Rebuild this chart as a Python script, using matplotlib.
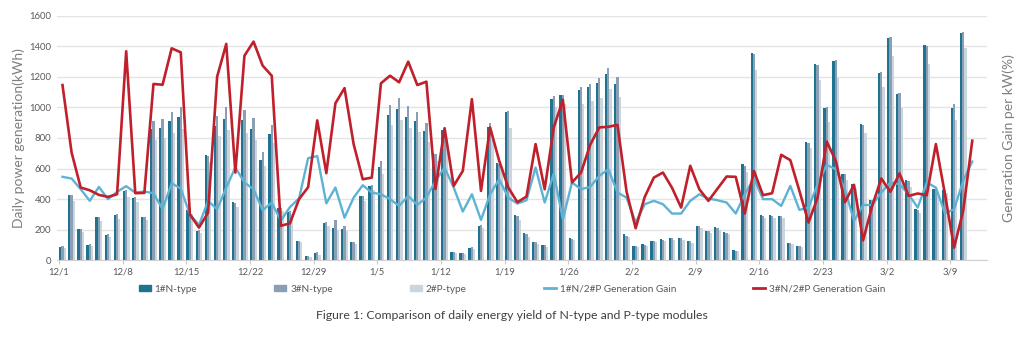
import numpy as np
import pandas as pd
import matplotlib
matplotlib.use('Agg')
import matplotlib.pyplot as plt
from matplotlib.patches import Patch
from matplotlib.lines import Line2D

plt.rcParams['font.family'] = ['Lato', 'DejaVu Sans']

days = pd.date_range('2022-12-01', periods=101)

# daily yield, kWh (last day has no bars)
n1_type = [90, 425, 203, 103, 282, 168, 298, 455, 410, 284,
           857, 862, 908, 936, 330, 195, 688, 876, 927, 383,
           918, 859, 656, 824, 340, 315, 128, 30, 45, 242,
           212, 207, 120, 420, 488, 610, 950, 990, 940, 912,
           846, 705, 850, 55, 45, 83, 227, 870, 634, 972,
           296, 177, 122, 100, 1052, 1078, 144, 1112, 1135, 1160,
           1220, 1155, 170, 94, 104, 126, 137, 144, 144, 126,
           225, 194, 216, 183, 66, 628, 1358, 298, 298, 293,
           116, 94, 774, 1282, 995, 1304, 564, 500, 893, 394,
           1226, 1456, 1090, 522, 335, 1406, 465, 462, 994, 1484, np.nan]
n3_type = [92, 430, 205, 105, 285, 170, 300, 460, 412, 286,
           909, 922, 972, 1005, 340, 197, 684, 942, 1000, 378,
           981, 929, 711, 885, 345, 320, 127, 30, 52, 250,
           266, 222, 118, 422, 492, 650, 1015, 1060, 1010, 972,
           896, 695, 842, 56, 48, 85, 231, 900, 628, 976,
           292, 172, 118, 98, 1075, 1082, 140, 1135, 1155, 1195,
           1255, 1200, 162, 92, 102, 124, 135, 143, 144, 124,
           222, 192, 212, 180, 64, 620, 1352, 292, 292, 288,
           112, 92, 770, 1277, 1005, 1310, 562, 495, 885, 395,
           1234, 1460, 1092, 518, 332, 1402, 470, 462, 1020, 1490, np.nan]
p2_type = [78, 390, 185, 95, 258, 155, 272, 415, 380, 262,
           787, 800, 830, 858, 305, 180, 645, 814, 855, 350,
           835, 790, 620, 765, 320, 300, 118, 24, 38, 225,
           200, 190, 110, 388, 460, 565, 885, 918, 865, 840,
           776, 650, 775, 50, 40, 75, 210, 800, 600, 865,
           265, 155, 110, 90, 1005, 1025, 130, 1020, 1040, 1060,
           1120, 1070, 150, 88, 96, 118, 128, 135, 135, 116,
           210, 180, 200, 170, 60, 580, 1242, 280, 280, 275,
           105, 85, 732, 1177, 902, 1190, 525, 470, 830, 383,
           1130, 1336, 994, 482, 307, 1282, 440, 442, 918, 1386, np.nan]

# generation gain per kW, %
gain_n1 = [5.46, 5.35, 4.65, 3.89, 4.80, 4.00, 4.48, 4.85, 4.43, 4.50,
           4.39, 3.34, 5.04, 4.69, 3.01, 2.31, 3.89, 3.34, 4.76, 6.07,
           5.09, 4.65, 3.27, 3.78, 2.60, 3.48, 4.05, 6.68, 6.82, 3.73,
           4.76, 2.79, 4.10, 4.91, 4.43, 4.32, 4.00, 3.56, 4.21, 3.62,
           4.10, 5.20, 6.07, 4.76, 3.19, 4.32, 2.64, 4.32, 5.30, 4.10,
           3.71, 3.93, 6.07, 3.78, 5.68, 2.68, 5.09, 4.65, 4.80, 5.52,
           5.96, 4.43, 4.10, 2.47, 3.67, 3.89, 3.67, 3.06, 3.06, 3.89,
           4.32, 4.04, 3.93, 3.78, 3.06, 4.32, 5.37, 4.00, 4.00, 3.56,
           4.87, 3.30, 3.45, 4.98, 6.24, 5.96, 4.65, 2.58, 3.62, 3.62,
           4.43, 5.09, 4.98, 4.32, 3.45, 5.09, 4.76, 3.08, 3.34, 5.20, 6.46]
gain_n3 = [11.46, 7.05, 4.76, 4.58, 4.28, 4.15, 4.32, 13.67, 4.39, 4.41,
           11.53, 11.48, 13.86, 13.60, 3.01, 2.14, 3.12, 12.01, 14.15, 5.74,
           13.38, 14.30, 12.73, 12.07, 2.26, 2.42, 4.00, 4.78, 9.15, 5.70,
           10.27, 11.26, 7.60, 5.30, 5.41, 11.57, 12.07, 11.64, 12.99, 11.46,
           11.68, 4.67, 8.64, 4.87, 5.85, 10.54, 4.54, 8.69, 6.51, 4.76,
           3.80, 4.17, 7.60, 4.65, 8.69, 10.50, 5.09, 5.74, 7.55, 8.69,
           8.73, 8.86, 4.50, 2.10, 4.15, 5.41, 5.74, 4.74, 3.45, 6.18,
           4.65, 3.89, 4.69, 5.48, 5.46, 3.06, 5.85, 4.26, 4.39, 6.90,
           6.55, 4.54, 2.47, 4.10, 7.77, 6.50, 3.80, 4.94, 1.31, 3.56,
           5.35, 4.48, 5.68, 4.21, 4.37, 4.26, 7.60, 4.32, 0.83, 3.23, 7.82]

x = np.arange(len(days))
w = 0.25

fig = plt.figure(figsize=(10.24, 3.39), dpi=100)
ax = fig.add_axes([0.0557, 0.232, 0.908, 0.722])

ax.bar(x - w, n1_type, width=w, color='#1f7391', zorder=2)
ax.bar(x, n3_type, width=w, color='#8a9fb3', zorder=2)
ax.bar(x + w, p2_type, width=w, color='#cad5de', zorder=2)

ax.set_ylim(0, 1600)
ax.set_xlim(-0.6, 101.6)
ax.set_yticks(range(0, 1601, 200))
ax.grid(axis='y', color='#e4e4e4', linewidth=1.0, zorder=0)
ax.set_axisbelow(True)
for s in ['top', 'right', 'left']:
    ax.spines[s].set_visible(False)
ax.spines['bottom'].set_color('#d0d0d0')

ticks = x[::7]
ax.set_xticks(ticks - 0.4)
ax.set_xticklabels([f'{d.month}/{d.day}' for d in days[::7]])
ax.tick_params(axis='x', length=3, color='#c8c8c8', labelsize=6.8,
               labelcolor='#595959', pad=2)
ax.tick_params(axis='y', length=0, labelsize=6.8, labelcolor='#595959', pad=4)
ax.set_ylabel('Daily power generation(kWh)', fontsize=10, color='#7f7f7f',
              labelpad=3)

ax2 = ax.twinx()
ax2.plot(x, gain_n1, color='#5db3d4', linewidth=1.7, zorder=3)
ax2.plot(x, gain_n3, color='#c0202b', linewidth=1.9, zorder=4)
ax2.set_ylim(0, 16)
ax2.set_yticks([])
for s in ax2.spines.values():
    s.set_visible(False)
ax2.set_ylabel('Generation Gain per kW(%)', fontsize=10, color='#7f7f7f',
              labelpad=11)

handles = [Patch(color='#1f7391'), Patch(color='#8a9fb3'), Patch(color='#cad5de'),
           Line2D([], [], color='#5db3d4', linewidth=2),
           Line2D([], [], color='#c0202b', linewidth=2)]
labels = ['1#N-type', '3#N-type', '2#P-type',
          '1#N/2#P Generation Gain', '3#N/2#P Generation Gain']
fig.legend(handles, labels, loc='center', bbox_to_anchor=(0.5, 0.147), ncol=5,
           frameon=False, fontsize=7.2, labelcolor='#595959', columnspacing=7.7,
           handlelength=1.2, handleheight=0.6, handletextpad=0.4)

fig.text(0.5, 0.068, 'Figure 1: Comparison of daily energy yield of N-type and P-type modules',
         ha='center', va='center', fontsize=8.8, color='#404040')

fig.savefig('out.png', dpi=100, facecolor='white')
